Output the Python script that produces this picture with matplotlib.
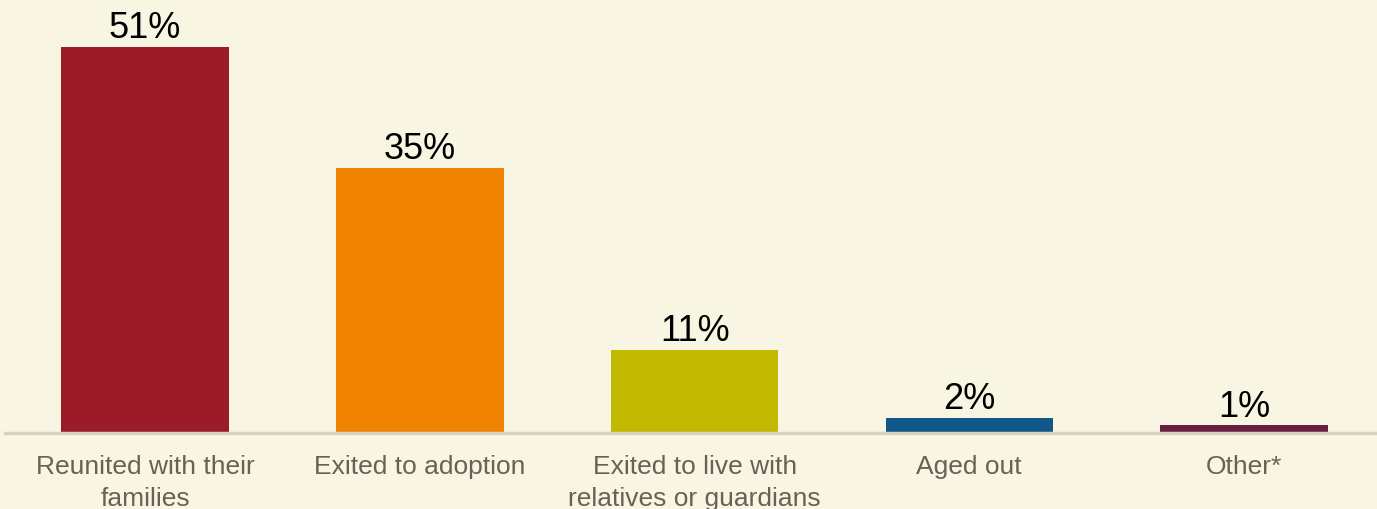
import matplotlib.pyplot as plt

categories = ['Reunited with their\nfamilies', 'Exited to adoption',
              'Exited to live with\nrelatives or guardians', 'Aged out', 'Other*']
values = [51, 35, 11, 2, 1]
colors = ['#9b1c28', '#ef8200', '#c2b900', '#11578a', '#661f40']

bg = '#f8f6e2'
fig = plt.figure(figsize=(13.77, 5.10), dpi=100, facecolor=bg)
ax = fig.add_axes([5 / 1377, 76 / 510, 1372 / 1377, 434 / 510])
ax.set_facecolor(bg)

x = range(len(values))
ax.bar(x, values, width=0.61, color=colors, zorder=2)

for i, v in enumerate(values):
    ax.annotate(f'{v}%', (i, v), xytext=(0, 7), textcoords='offset points',
                ha='center', va='baseline', fontsize=26, color='black',
                family='Liberation Sans')

ax.set_xlim(-0.51, 4.484)
ax.set_ylim(0, 57.3)
ax.set_yticks([])
ax.set_xticks(list(x))
ax.set_xticklabels(categories, fontsize=19, color='#6b5f57',
                   family='Liberation Sans', linespacing=1.45)
ax.tick_params(axis='x', length=0, pad=15)

for side in ['top', 'right', 'left']:
    ax.spines[side].set_visible(False)
ax.spines['bottom'].set_color('#d6d3c0')
ax.spines['bottom'].set_linewidth(2.5)
ax.spines['bottom'].set_zorder(3)

fig.savefig('out.png', dpi=100, facecolor=bg)
